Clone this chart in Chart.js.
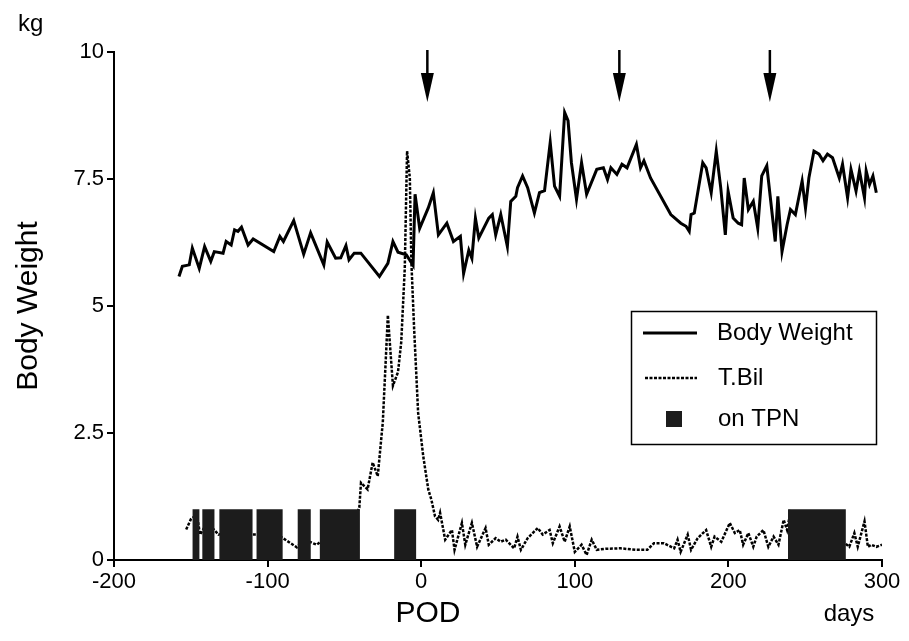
<!DOCTYPE html>
<html>
<head>
<meta charset="utf-8">
<script src="https://cdn.jsdelivr.net/npm/chart.js@4.4.1/dist/chart.umd.min.js"></script>
<style>
  html, body { margin: 0; padding: 0; background: #fff; }
  #wrap { width: 909px; height: 641px; }
</style>
</head>
<body>
<div id="wrap"><canvas id="podChart" width="909" height="641"></canvas></div>
<script>
// 체중 (kg) - 수술 후 일수(POD)
const bwDays = [-157.7, -155.5, -151, -149, -144.5, -141, -137, -134.7, -129, -127, -123.7, -121.5, -119.3, -117,
    -112.7, -109.4, -96, -92, -89.7, -83, -76.5, -72, -63.4, -61.2, -55.7, -52.4, -49, -47, -43.6, -39.3,
    -27.2, -21.7, -18.4, -15.1, -9.7, -5.3, -4, -1, 4.6, 7.9, 11.2, 16.7, 21, 25.5, 27.6, 31, 33, 35.3, 37.5,
    44, 46.3, 48.5, 51.8, 56.1, 58.3, 61.6, 62.7, 66, 69.3, 73.7, 77, 80.3, 84, 86.8, 90.1, 93.4, 95.6, 97.8,
    101.1, 104.4, 107.7, 114.3, 118.6, 121.3, 123.5, 127.4, 130.7, 134, 140.1, 142.8, 145, 149.3, 162.5, 169,
    172.4, 174.5, 175.7, 177.8, 183.3, 185.5, 188.8, 192.1, 195, 198, 199.8, 203.1, 206.4, 208.6, 210.3, 213,
    216.2, 219.1, 221.7, 225, 227.2, 230.5, 232.2, 234.9, 238.2, 240.4, 243.6, 245.8, 248, 250.2, 252.4,
    255.7, 259, 261.6, 264.5, 267.8, 272.2, 274.3, 277.6, 279.8, 283.1, 285.3, 288.6, 289.7, 291.9, 294.1, 296.3];
const bwValues = [5.58, 5.78, 5.81, 6.14, 5.74, 6.17, 5.88, 6.07, 6.04, 6.27, 6.20, 6.50, 6.47, 6.55,
    6.20, 6.32, 6.07, 6.37, 6.27, 6.68, 6.02, 6.44, 5.81, 6.26, 5.94, 5.95, 6.19, 5.91, 6.04, 6.04,
    5.58, 5.84, 6.27, 6.06, 6.01, 5.80, 7.20, 6.53, 6.93, 7.23, 6.40, 6.63, 6.27, 6.37, 5.64, 6.10, 5.94, 6.73, 6.34,
    6.73, 6.80, 6.40, 6.80, 6.17, 7.06, 7.16, 7.33, 7.56, 7.33, 6.83, 7.23, 7.27, 8.22, 7.36, 7.16, 8.81, 8.65, 7.82,
    7.10, 7.82, 7.20, 7.69, 7.72, 7.49, 7.72, 7.59, 7.79, 7.72, 8.18, 7.72, 7.86, 7.52, 6.80, 6.63,
    6.57, 6.47, 6.80, 6.83, 7.82, 7.72, 7.23, 8.05, 7.33, 6.40, 7.26, 6.73, 6.63, 6.60, 7.52, 6.90,
    7.06, 6.53, 7.56, 7.76, 7.16, 6.27, 7.16, 6.07, 6.60, 6.90, 6.80, 7.13, 7.46, 6.93, 7.52,
    8.05, 7.99, 7.86, 7.99, 7.92, 7.52, 7.79, 7.13, 7.69, 7.26, 7.66, 7.13, 7.66, 7.39, 7.56, 7.23];

// 총 빌리루빈 (T.Bil)
const tbilDays = [-153, -150, -146, -144, -140, -135, -132, -120, -110, -100, -91, -86, -81, -76, -72, -68, -66,
    -55, -45, -40.3, -39.2, -34.9, -31.6, -28.3, -25, -21.7, -19.5, -18.4, -15.1, -13, -10.7, -9.2, -7.4, -6.4,
    -4.6, -2, 1.3, 4.6, 6.6, 9, 11, 12.3, 15.6, 20, 21.7, 26.5, 28.7, 33, 36.4, 41.9, 44, 48.5, 51.8, 55.1, 60.5,
    62.7, 64.9, 69.3, 75.9, 79.1, 83.6, 85.7, 90.1, 93.4, 96.7, 100, 104.4, 107.7, 111, 114.3, 120, 129.6, 140,
    147.2, 151.5, 158, 164.7, 166.9, 168.9, 173.5, 175.7, 180, 185.5, 188.8, 191, 195.4, 200.9, 204.2, 207.4,
    209.6, 213, 216.2, 218.4, 222.8, 226, 229.4, 232.6, 236, 238.2, 240.4, 250, 265, 278.7, 282, 284.2, 288.6,
    290.8, 293, 296.3, 300];
const tbilValues = [0.6, 0.8, 0.9, 0.5, 0.7, 0.6, 0.5, 0.6, 0.5, 0.5, 0.45, 0.35, 0.25, 0.4, 0.35, 0.3, 0.35,
    0.5, 0.7, 1.03, 1.52, 1.39, 1.92, 1.65, 2.71, 4.82, 3.89, 3.43, 3.70, 4.29, 5.74, 8.05, 7.52, 5.87,
    4.55, 2.90, 2.05, 1.39, 1.19, 0.86, 0.79, 0.93, 0.40, 0.59, 0.20, 0.73, 0.30, 0.73, 0.26, 0.63, 0.30, 0.43, 0.36, 0.40, 0.23,
    0.46, 0.20, 0.43, 0.63, 0.50, 0.59, 0.33, 0.66, 0.36, 0.66, 0.16, 0.30, 0.10, 0.40, 0.20, 0.22, 0.23, 0.20,
    0.20, 0.33, 0.33, 0.23, 0.40, 0.16, 0.50, 0.20, 0.43, 0.59, 0.26, 0.46, 0.36, 0.73, 0.53, 0.59,
    0.30, 0.53, 0.26, 0.46, 0.59, 0.26, 0.46, 0.30, 0.79, 0.59, 0.95, 0.70, 0.60, 0.26, 0.53, 0.26, 0.76,
    0.26, 0.30, 0.26, 0.30];

// TPN 투여 기간 (시작일, 종료일)
const tpnStart = [-149, -142.5, -131.4, -107.2, -80.4, -66, -17.6, 238.8];
const tpnEnd = [-144.4, -134.6, -109.8, -90.2, -71.9, -39.9, -3.3, 276.5];
const tpnLevel = 1.0;

// 화살표 표시일
const arrowDays = [4, 129, 227];

const xTickLabels = ['-200', '-100', '0', '100', '200', '300'];
const yTickLabels = ['0', '2.5', '5', '7.5', '10'];

const FONT = "'Liberation Sans', Arial, Helvetica, sans-serif";
Chart.defaults.font.family = FONT;
Chart.defaults.color = '#000';

const bwPoints = bwDays.map((d, i) => ({ x: d, y: bwValues[i] }));
const tbilPoints = tbilDays.map((d, i) => ({ x: d, y: tbilValues[i] }));
const tpnPoints = [];
tpnStart.forEach((s, i) => {
    tpnPoints.push({ x: s, y: 0 }, { x: s, y: tpnLevel }, { x: tpnEnd[i], y: tpnLevel }, { x: tpnEnd[i], y: 0 });
});

// 화살표, 범례, 단위 텍스트
const decorations = {
    id: 'decorations',
    afterDraw(chart) {
        const ctx = chart.ctx;
        const xs = chart.scales.x;
        const area = chart.chartArea;
        ctx.save();
        ctx.fillStyle = '#000';
        ctx.strokeStyle = '#000';

        arrowDays.forEach(d => {
            const px = xs.getPixelForValue(d);
            ctx.lineWidth = 2.5;
            ctx.beginPath();
            ctx.moveTo(px, area.top - 2);
            ctx.lineTo(px, area.top + 24);
            ctx.stroke();
            ctx.beginPath();
            ctx.moveTo(px - 6.5, area.top + 21);
            ctx.lineTo(px + 6.5, area.top + 21);
            ctx.lineTo(px, area.top + 50);
            ctx.closePath();
            ctx.fill();
        });

        ctx.textBaseline = 'alphabetic';
        ctx.font = '24px ' + FONT;
        ctx.textAlign = 'left';
        ctx.fillText('kg', 18, 31);
        ctx.font = '30px ' + FONT;
        ctx.textAlign = 'center';
        ctx.fillText('POD', 428, 622);
        ctx.font = '24px ' + FONT;
        ctx.fillText('days', 849, 621);

        // 범례
        ctx.lineWidth = 1.5;
        ctx.strokeRect(631.5, 311.5, 245, 133);
        ctx.lineWidth = 3;
        ctx.beginPath();
        ctx.moveTo(643, 333);
        ctx.lineTo(697, 333);
        ctx.stroke();
        ctx.lineWidth = 2.5;
        ctx.setLineDash([3, 1.5]);
        ctx.beginPath();
        ctx.moveTo(645, 378);
        ctx.lineTo(697, 378);
        ctx.stroke();
        ctx.setLineDash([]);
        ctx.fillStyle = '#1c1c1c';
        ctx.fillRect(666, 411, 16, 16);
        ctx.fillStyle = '#000';
        ctx.font = '24px ' + FONT;
        ctx.textAlign = 'left';
        ctx.textBaseline = 'middle';
        ctx.fillText('Body Weight', 717, 333);
        ctx.fillText('T.Bil', 718, 378);
        ctx.fillText('on TPN', 718, 419);
        ctx.restore();
    }
};

const ctx = document.getElementById('podChart').getContext('2d');
new Chart(ctx, {
    type: 'line',
    data: {
        datasets: [
            {
                label: 'on TPN',
                data: tpnPoints,
                borderWidth: 0,
                borderColor: '#1c1c1c',
                backgroundColor: '#1c1c1c',
                fill: 'origin',
                pointRadius: 0,
                tension: 0,
                order: 0
            },
            {
                label: 'T.Bil',
                data: tbilPoints,
                borderColor: '#000',
                borderWidth: 2.5,
                borderDash: [3, 1.5],
                pointRadius: 0,
                tension: 0,
                fill: false,
                order: 1
            },
            {
                label: 'Body Weight',
                data: bwPoints,
                borderColor: '#000',
                borderWidth: 3,
                pointRadius: 0,
                tension: 0,
                fill: false,
                order: 2
            }
        ]
    },
    options: {
        responsive: false,
        animation: false,
        layout: { padding: { top: 52, right: 27, left: 0, bottom: 0 } },
        plugins: {
            legend: { display: false },
            tooltip: { enabled: false }
        },
        scales: {
            x: {
                type: 'linear',
                min: -200,
                max: 300,
                afterFit: s => { s.height = 81; },
                ticks: {
                    stepSize: 100,
                    padding: 2,
                    font: { size: 22 },
                    color: '#000',
                    maxRotation: 0,
                    callback: (v, i) => xTickLabels[i]
                },
                grid: { drawOnChartArea: false, drawTicks: true, tickLength: 7, color: '#000', lineWidth: 2 },
                border: { display: true, color: '#000', width: 2 }
            },
            y: {
                min: 0,
                max: 10,
                afterFit: s => { s.width = 114; },
                ticks: {
                    stepSize: 2.5,
                    padding: 3,
                    font: { size: 22 },
                    color: '#000',
                    callback: (v, i) => yTickLabels[i]
                },
                title: {
                    display: true,
                    text: 'Body Weight',
                    font: { size: 30 },
                    color: '#000',
                    padding: { top: 11, bottom: 0 }
                },
                grid: { drawOnChartArea: false, drawTicks: true, tickLength: 7, color: '#000', lineWidth: 2 },
                border: { display: true, color: '#000', width: 2 }
            }
        }
    },
    plugins: [decorations]
});
</script>
</body>
</html>
